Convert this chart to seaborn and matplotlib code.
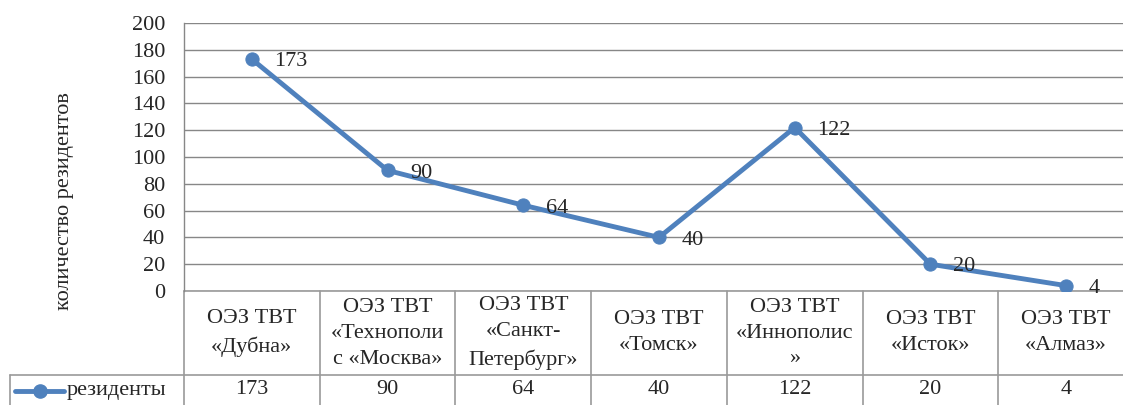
import matplotlib
matplotlib.use("Agg")
import matplotlib.pyplot as plt
import matplotlib.transforms as mtransforms
from matplotlib.lines import Line2D
import pandas as pd
import seaborn as sns

# data
categories = ["ОЭЗ ТВТ\n«Дубна»", "ОЭЗ ТВТ\n«Технополи\nс «Москва»",
              "ОЭЗ ТВТ\n«Санкт-\nПетербург»", "ОЭЗ ТВТ\n«Томск»",
              "ОЭЗ ТВТ\n«Иннополис\n»", "ОЭЗ ТВТ\n«Исток»", "ОЭЗ ТВТ\n«Алмаз»"]
residents = [173, 90, 64, 40, 122, 20, 4]
series_name = "резиденты"
y_label = "количество резидентов"
y_ticks = [0, 20, 40, 60, 80, 100, 120, 140, 160, 180, 200]

df = pd.DataFrame({"pos": range(len(categories)), "value": residents})

sns.set_style("white")
plt.rcParams["font.family"] = ["Liberation Serif", "DejaVu Serif"]
fs = 16

blue = "#4F81BD"
grid = "#878787"

W, H = 1123, 405
fig = plt.figure(figsize=(W / 100, H / 100), dpi=100)
left, right, top, bottom = 184, 1134, 23, 291
ax = fig.add_axes([left / W, 1 - bottom / H, (right - left) / W, (bottom - top) / H])

sns.lineplot(data=df, x="pos", y="value", ax=ax, color=blue, linewidth=3.5,
             marker="o", markersize=9.5, markeredgecolor=blue, zorder=3)

ax.set_xlim(-0.5, len(categories) - 0.5)
ax.set_ylim(0, 200)
ax.set_yticks(y_ticks)
ax.set_xticks([])
ax.set_xlabel("")
ax.set_ylabel("")
ax.tick_params(axis="y", length=0, pad=13.5, labelsize=fs)
ax.yaxis.grid(True, color=grid, linewidth=1)
for s in ["top", "right", "bottom"]:
    ax.spines[s].set_visible(False)
ax.spines["left"].set_color(grid)
ax.spines["left"].set_linewidth(1)

# data labels
for i, v in enumerate(residents):
    ax.annotate(str(v), (i, v), xytext=(16, -2), textcoords="offset points",
                ha="left", va="center", fontsize=fs)

# table below the plot
trans = mtransforms.blended_transform_factory(ax.transData, ax.transAxes)
ph = bottom - top
y_row1 = -(375 - bottom) / ph
y_row2 = -(406 - bottom) / ph
n = len(categories)
tcol = "#9A9A9A"
for k in range(n + 1):
    ax.add_line(Line2D([k - 0.5, k - 0.5], [0, y_row2], transform=trans,
                       color=tcol, linewidth=1.2, clip_on=False))
ax.add_line(Line2D([-0.5, n - 0.5], [0, 0], transform=trans,
                   color=tcol, linewidth=1.2, clip_on=False))
fig.add_artist(Line2D([10 / W, 1], [1 - 375 / H, 1 - 375 / H],
                      color=tcol, linewidth=1.2))
fig.add_artist(Line2D([10 / W, 10 / W], [1 - 375 / H, 0],
                      color=tcol, linewidth=1.2))

for i, (c, v) in enumerate(zip(categories, residents)):
    ax.text(i, y_row1 / 2, c, transform=trans, ha="center", va="center",
            fontsize=fs, linespacing=1.5, clip_on=False)
    ax.text(i, (y_row1 + y_row2) / 2 + 0.005, str(v), transform=trans,
            ha="center", va="center", fontsize=fs, clip_on=False)

# legend key in the table
ly = 1 - 391 / H
fig.add_artist(Line2D([15 / W, 64 / W], [ly, ly], color=blue, linewidth=3.5))
fig.add_artist(Line2D([40 / W], [ly], color=blue, marker="o", markersize=9.5,
                      markeredgecolor=blue))
fig.text(67 / W, ly, series_name, ha="left", va="center", fontsize=fs)

fig.text(64 / W, 1 - 201 / H, y_label, rotation=90, ha="center", va="center",
         fontsize=fs)

fig.savefig("out.png", dpi=100)
